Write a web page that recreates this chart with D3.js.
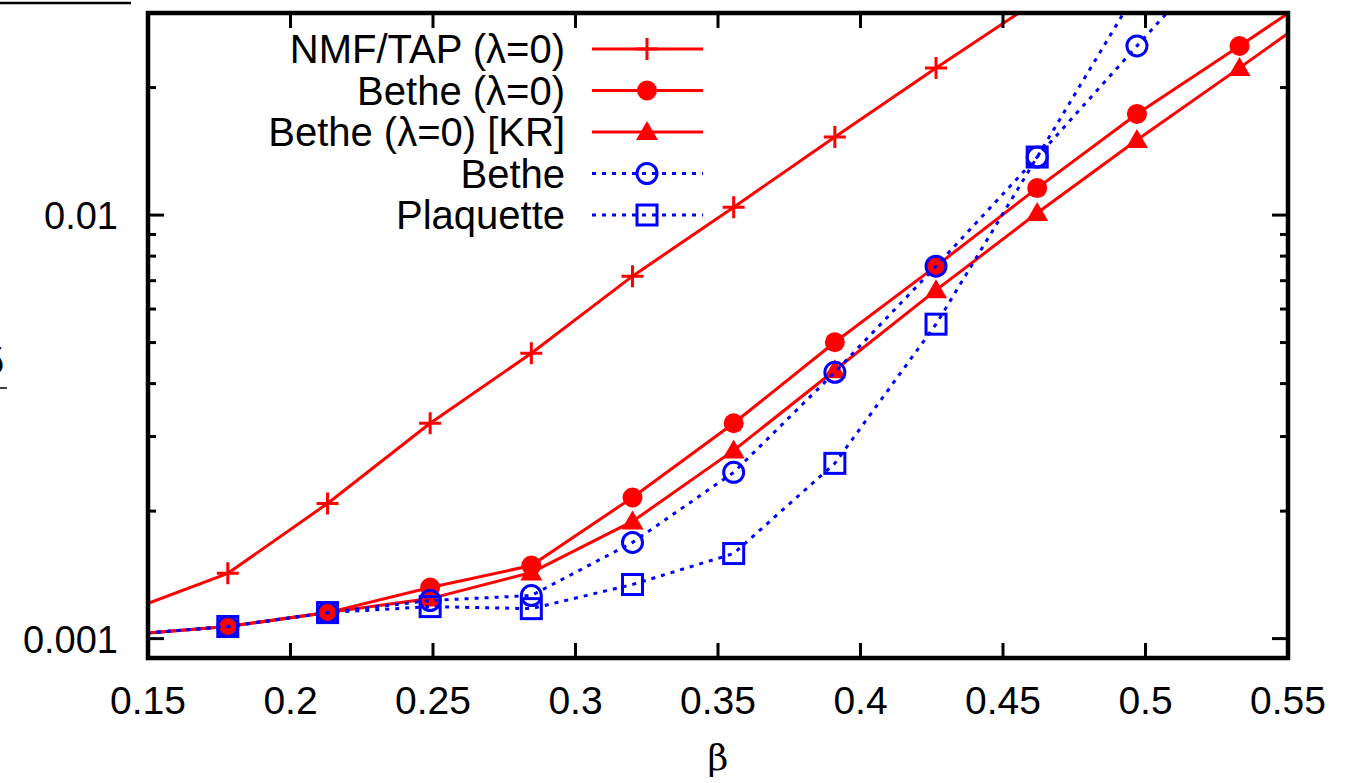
<!DOCTYPE html>
<html>
<head>
<meta charset="utf-8">
<script src="https://cdn.jsdelivr.net/npm/d3@7"></script>
<style>
  body { margin: 0; background: #fff; }
  svg { display: block; }
  text { font-family: "Liberation Sans", Arial, sans-serif; }
</style>
</head>
<body>
<div id="chart"></div>
<script>
// beta values where each method was evaluated (first and last ones fall outside the frame)
const betas = [0.1425, 0.178, 0.213, 0.249, 0.2845, 0.32, 0.3555, 0.391, 0.4265, 0.462, 0.497, 0.533, 0.568];

// series values (null = not plotted)
const nmfTap = [0.001159, 0.001426, 0.002085, 0.003224, 0.004718, 0.007175, 0.01044, 0.01529, 0.02226, 0.03206, null, null, null];
const betheL0 = [0.001022, 0.001068, 0.001152, 0.001320, 0.001488, 0.002154, 0.003224, 0.005009, 0.007575, 0.01158, 0.01733, 0.02508, 0.03613];
const betheKR = [0.001022, 0.001068, 0.001152, 0.001243, 0.001432, 0.001891, 0.002782, 0.004301, 0.006648, 0.01011, 0.01504, 0.02226, 0.03277];
const bethe = [0.001022, 0.001068, 0.001152, 0.001230, 0.001264, 0.001687, 0.002469, 0.004254, 0.007575, 0.01371, 0.02508, 0.04642, null];
const plaquette = [0.001022, 0.001068, 0.001152, 0.001190, 0.001177, 0.001342, 0.001588, 0.002593, 0.005526, 0.01371, 0.03386, null, null];

const xTicks = [0.15, 0.2, 0.25, 0.3, 0.35, 0.4, 0.45, 0.5, 0.55];
const yLabelTicks = [0.001, 0.01];
const yMinorTicks = [0.002, 0.003, 0.004, 0.005, 0.006, 0.007, 0.008, 0.009, 0.02, 0.03];

const seriesNames = ["NMF/TAP (λ=0)", "Bethe (λ=0)", "Bethe (λ=0) [KR]", "Bethe", "Plaquette"];
const seriesValues = [nmfTap, betheL0, betheKR, bethe, plaquette];
const seriesColors = ["#ff0000", "#ff0000", "#ff0000", "#0000ff", "#0000ff"];
const seriesSymbols = ["plus", "dot", "triangle", "circle", "square"];
const seriesDashed = [false, false, false, true, true];

const width = 1365, height = 783;
const plotLeft = 148, plotRight = 1288, plotTop = 13, plotBottom = 658;

const svg = d3.select("#chart").append("svg")
    .attr("width", width)
    .attr("height", height);

const x = d3.scaleLinear().domain([0.15, 0.55]).range([plotLeft, plotRight]);
const y = d3.scaleLog().domain([0.0009, 0.03]).range([plotBottom, plotTop]);

svg.append("defs").append("clipPath").attr("id", "plotclip")
    .append("rect")
    .attr("x", plotLeft).attr("y", plotTop)
    .attr("width", plotRight - plotLeft).attr("height", plotBottom - plotTop);

// draws one marker symbol centred at 0,0 inside g
function drawSymbol(g, kind, color) {
    if (kind === "plus") {
        g.append("path").attr("d", "M-11,0H11M0,-11V11")
            .attr("stroke", color).attr("stroke-width", 3).attr("fill", "none");
    } else if (kind === "dot") {
        g.append("circle").attr("r", 10).attr("fill", color);
    } else if (kind === "triangle") {
        g.append("path").attr("d", "M0,-11L11,8H-11Z").attr("fill", color);
    } else if (kind === "circle") {
        g.append("circle").attr("r", 10)
            .attr("fill", "none").attr("stroke", color).attr("stroke-width", 3);
    } else if (kind === "square") {
        g.append("rect").attr("x", -10).attr("y", -10).attr("width", 20).attr("height", 20)
            .attr("fill", "none").attr("stroke", color).attr("stroke-width", 3);
    }
}

const plot = svg.append("g").attr("clip-path", "url(#plotclip)");

const line = d3.line()
    .defined(d => d[1] != null)
    .x(d => x(d[0]))
    .y(d => y(d[1]));

seriesValues.forEach((vals, i) => {
    const pts = betas.map((b, j) => [b, vals[j]]);
    const g = plot.append("g");
    g.append("path")
        .datum(pts)
        .attr("d", line)
        .attr("fill", "none")
        .attr("stroke", seriesColors[i])
        .attr("stroke-width", 3)
        .attr("stroke-dasharray", seriesDashed[i] ? "4,6" : null);

    pts.filter(d => d[1] != null).forEach(d => {
        const m = g.append("g").attr("transform", `translate(${x(d[0])},${y(d[1])})`);
        drawSymbol(m, seriesSymbols[i], seriesColors[i]);
    });
});

// ticks on all four sides
const tickG = svg.append("g").attr("stroke", "#000").attr("stroke-width", 3);
xTicks.forEach(t => {
    tickG.append("line").attr("x1", x(t)).attr("x2", x(t)).attr("y1", plotBottom).attr("y2", plotBottom - 15);
    tickG.append("line").attr("x1", x(t)).attr("x2", x(t)).attr("y1", plotTop).attr("y2", plotTop + 15);
});
yLabelTicks.forEach(t => {
    tickG.append("line").attr("x1", plotLeft).attr("x2", plotLeft + 16).attr("y1", y(t)).attr("y2", y(t));
    tickG.append("line").attr("x1", plotRight).attr("x2", plotRight - 16).attr("y1", y(t)).attr("y2", y(t));
});
yMinorTicks.forEach(t => {
    tickG.append("line").attr("x1", plotLeft).attr("x2", plotLeft + 8).attr("y1", y(t)).attr("y2", y(t));
    tickG.append("line").attr("x1", plotRight).attr("x2", plotRight - 8).attr("y1", y(t)).attr("y2", y(t));
});

// frame
svg.append("rect")
    .attr("x", plotLeft).attr("y", plotTop)
    .attr("width", plotRight - plotLeft).attr("height", plotBottom - plotTop)
    .attr("fill", "none").attr("stroke", "#000").attr("stroke-width", 4.5);

// tick labels
svg.append("g").selectAll("text").data(xTicks).join("text")
    .attr("x", d => x(d))
    .attr("y", 714)
    .attr("text-anchor", "middle")
    .style("font-size", "39px")
    .text(d => d);

svg.append("g").selectAll("text").data(yLabelTicks).join("text")
    .attr("x", 118)
    .attr("y", d => y(d) + 14)
    .attr("text-anchor", "end")
    .style("font-size", "38px")
    .text(d => d);

// axis title
svg.append("text")
    .attr("x", 718).attr("y", 770)
    .attr("text-anchor", "middle")
    .style("font-family", "'DejaVu Serif', 'Liberation Serif', serif")
    .style("font-size", "36px")
    .text("β");

// pieces of the cut-off labels at the picture's left edge
svg.append("line").attr("x1", 0).attr("x2", 131).attr("y1", 3).attr("y2", 3)
    .attr("stroke", "#000").attr("stroke-width", 2.5);
svg.append("text")
    .attr("x", -16).attr("y", 374)
    .style("font-size", "36px")
    .text("δ");
svg.append("line").attr("x1", 0).attr("x2", 7).attr("y1", 388).attr("y2", 388)
    .attr("stroke", "#000").attr("stroke-width", 1.5);

// legend
const legend = svg.append("g");
seriesNames.forEach((name, i) => {
    const ly = 49 + i * 41.5;
    legend.append("text")
        .attr("x", 565).attr("y", ly + 14)
        .attr("text-anchor", "end")
        .style("font-size", "40px")
        .text(name);
    legend.append("line")
        .attr("x1", 592).attr("x2", 703).attr("y1", ly).attr("y2", ly)
        .attr("stroke", seriesColors[i]).attr("stroke-width", 3)
        .attr("stroke-dasharray", seriesDashed[i] ? "4,6" : null);
    const m = legend.append("g").attr("transform", `translate(647,${ly})`);
    drawSymbol(m, seriesSymbols[i], seriesColors[i]);
});
</script>
</body>
</html>
